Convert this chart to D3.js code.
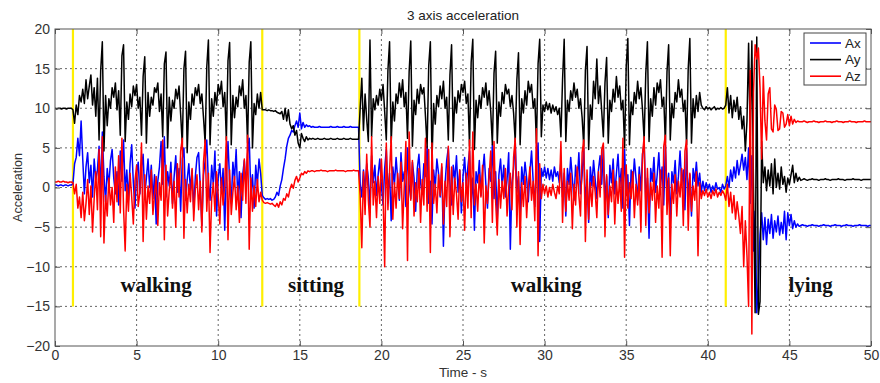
<!DOCTYPE html>
<html><head><meta charset="utf-8">
<script src="https://cdn.jsdelivr.net/npm/d3@7"></script>
<style>
body{margin:0;background:#fff}
svg{display:block}
text{font-family:"Liberation Sans",Arial,sans-serif}
</style>
</head><body>
<svg id="chart" width="880" height="383"></svg>
<script>
// ---------- DATA (sampled every 0.1 s; each segment starts at segStart) ----------
const segStart = [0, 1.1, 12.7, 18.7, 41.2, 45.7];
const sampleStep = 0.1;

// Ax (blue)
const axRest = [0.3,0.3,0.2,0.3,0.3,0.2,0.3,0.3,0.2,0.3,0.3];
const axWalk1 = [0.5,3.0,3.8,6.2,4.0,8.4,3.6,-0.8,2.6,4.4,
0.6,2.8,-1.2,3.6,1.0,2.2,5.2,-0.6,7.0,1.4,
-1.8,2.4,0.2,3.4,4.8,1.2,-0.8,2.0,-2.2,4.6,
0.8,6.0,-0.4,2.2,-1.6,3.0,5.4,0.6,-2.6,1.8,
3.2,-0.8,2.4,4.2,-1.0,1.2,3.6,0.0,2.8,-1.4,
1.6,-4.6,0.8,2.6,5.8,0.4,6.4,-1.2,2.0,0.2,
3.2,-2.0,1.4,4.0,-0.6,2.4,-3.0,3.6,5.0,-1.6,
1.0,3.0,-0.4,2.2,-2.8,1.4,3.8,4.4,0.2,-4.8,
1.6,3.4,6.0,0.6,-1.6,2.8,0.4,4.6,-3.6,1.2,
3.0,-0.6,2.4,-5.4,1.8,5.8,0.8,-2.0,3.2,1.0,
4.8,-1.4,2.0,-3.8,1.6,3.4,0.2,4.2,6.2,-0.8,
1.6,-2.6,2.8,0.4,3.6,1.8];
const axSit = [-1.0,-1.3,-1.5,-1.4,-1.5,-1.4,-1.6,-1.5,-1.2,-0.6,-1.0,
0.2,1.0,2.4,3.6,5.2,6.2,6.6,7.2,7.0,7.8,
8.4,7.6,9.4,7.4,8.2,7.6,7.9,7.7,7.8,
7.6,7.7,7.6,7.6,7.6,7.7,7.6,7.6,7.6,7.6,
7.6,7.6,7.7,7.6,7.6,7.6,7.7,7.6,7.6,7.6,
7.7,7.6,7.6,7.6,7.7,7.6,7.6,7.6,7.6,7.6];
const axWalk2 = [0.4,-1.2,2.2,-0.4,3.0,1.2,-2.6,4.0,0.6,2.8,
-1.0,1.6,3.6,0.2,-2.2,2.4,4.8,-0.8,1.8,-4.2,
2.6,0.4,3.8,1.0,-1.6,4.4,0.8,2.0,-2.4,5.0,
0.2,-1.4,3.2,1.2,-3.0,2.4,4.2,0.6,-0.8,3.0,
1.4,5.2,-2.0,0.8,-4.6,2.2,0.0,3.6,1.8,-1.2,
2.6,-7.4,0.4,3.4,5.0,0.6,-2.2,2.8,1.0,4.0,
-0.6,2.2,-3.2,1.4,3.8,0.2,2.6,4.6,-1.8,1.2,
-5.4,2.0,0.6,3.4,-1.0,1.8,4.2,0.4,-2.6,2.4,
0.8,5.4,-1.4,2.0,-4.0,1.6,3.6,0.2,2.8,-1.2,
1.0,4.4,-7.8,0.6,2.4,5.8,-0.6,1.4,-3.4,2.6,
0.4,3.2,1.2,-1.8,2.0,4.6,0.8,-2.4,3.0,5.6,
-6.8,2.4,1.4,2.6,1.2,2.4,1.0,2.2,0.8,2.6,
1.4,2.0,0.6,3.4,-1.2,1.8,-3.6,2.4,0.4,3.8,
1.2,-1.6,2.8,0.6,4.4,-0.8,1.6,5.0,-2.2,1.0,
-4.4,2.6,0.2,3.4,1.0,-1.4,2.2,4.0,0.4,5.2,
-2.0,1.4,-3.8,2.8,0.6,3.6,-0.8,1.8,4.2,0.0,
2.4,-2.6,4.8,-1.0,1.6,-4.8,2.2,0.4,3.6,1.2,
-1.6,2.6,-0.4,4.2,5.6,-1.8,1.2,-6.4,2.4,0.8,
3.8,-0.6,1.6,4.4,0.2,2.6,-2.2,5.4,-1.0,1.8,
-4.2,2.0,0.6,3.4,-0.8,1.4,4.6,0.4,2.2,-2.8,
5.0,-1.4,1.6,-3.6,2.4,0.8,3.2,0.2,1.8,-0.6,
0.8,-0.4,0.6,-0.2,0.4,-0.6,0.2,-0.4,0.6,-0.2,
0.0,-0.6,0.4,-0.2,0.2];
const axLie = [1.4,0.0,2.2,0.8,2.6,1.2,3.4,1.6,2.8,4.2,
2.2,3.8,1.0,5.0,-2.0,4.0,-8.0,-3.0,-15.8,-12.0,
-6.0,-3.2,-6.6,-3.8,-7.2,-4.0,-5.8,-3.4,-6.4,-4.2,
-5.6,-3.6,-6.0,-4.4,-5.8,-3.0,-6.6,-3.2,-4.8,-3.4,
-5.2,-4.2,-5.0,-4.6,-4.9];
const axFlat = [-4.8,-4.7,-4.8,-4.8,-4.9,-4.8,-4.8,-4.7,-4.8,-4.8,
-4.8,-4.9,-4.8,-4.8,-4.7,-4.8,-4.8,-4.8,-4.9,-4.8,
-4.8,-4.7,-4.8,-4.8,-4.8,-4.9,-4.8,-4.8,-4.7,-4.8,
-4.8,-4.8,-4.9,-4.8,-4.8,-4.8,-4.7,-4.8,-4.8,-4.8,
-4.8,-4.9,-4.8,-4.8];

// Ay (black)
const ayRest = [10.0,9.9,10.0,10.0,9.9,10.0,10.0,9.9,10.0,10.0,10.0];
const ayWalk1 = [9.8,8.1,10.4,9.2,11.6,10.8,12.4,10.6,13.6,11.2,
12.8,14.2,10.4,12.6,9.0,13.8,6.0,14.8,18.4,4.6,
11.6,7.8,11.2,10.0,12.6,11.4,13.2,9.8,12.2,6.6,
16.6,18.0,5.8,10.8,8.6,11.8,10.2,12.8,11.6,13.0,
10.0,11.4,6.6,14.0,16.5,5.6,12.0,9.0,11.4,10.4,
12.6,12.0,13.2,9.6,11.8,6.4,15.6,17.1,5.0,11.4,
8.4,11.0,10.0,12.4,11.2,12.8,9.2,5.4,15.0,17.2,
4.4,10.8,8.6,11.8,10.4,12.6,11.6,13.0,10.6,11.8,
8.8,5.6,15.2,18.6,5.4,11.2,9.0,12.0,10.4,13.0,
11.8,13.4,10.2,12.0,6.0,16.0,18.3,5.4,11.6,8.8,
11.4,10.2,12.8,11.6,13.6,10.0,11.6,5.6,15.8,18.4,
5.0,10.6,9.2,11.8,10.0,12.0];
const aySit = [9.8,9.8,9.8,9.7,9.8,9.7,9.7,9.6,9.7,9.5,9.4,
9.3,9.6,8.6,10.0,8.4,9.8,8.0,7.4,7.8,6.6,
7.2,5.6,5.0,6.8,6.2,5.8,6.4,6.0,6.2,
6.1,6.2,6.1,6.1,6.2,6.1,6.1,6.1,6.2,6.1,
6.1,6.1,6.2,6.1,6.1,6.1,6.2,6.1,6.1,6.1,
6.2,6.1,6.1,6.1,6.2,6.1,6.1,6.1,6.1,6.1];
const ayWalk2 = [10.0,13.8,7.2,11.8,8.6,5.8,18.6,6.4,11.2,9.8,
11.6,10.4,12.4,11.0,13.0,9.6,6.0,14.8,18.4,5.6,
10.8,8.4,11.8,10.6,13.2,11.4,13.6,10.2,12.0,6.2,
14.6,18.5,5.2,11.0,9.2,12.4,10.6,13.0,11.8,12.6,
9.0,5.0,15.4,18.4,3.4,10.6,8.0,11.6,10.2,12.8,
11.2,13.4,10.0,11.4,6.0,14.2,18.0,5.8,11.4,9.4,
12.2,10.8,13.0,12.0,13.4,10.6,11.8,5.2,15.8,18.7,
4.8,11.0,8.8,11.6,10.0,12.6,11.4,13.2,10.4,12.2,
9.6,5.4,14.4,17.2,5.6,10.8,9.0,12.0,10.6,13.0,
11.8,12.4,10.2,11.6,9.4,5.8,13.6,17.0,5.4,11.2,
9.4,12.2,10.4,13.4,12.0,13.0,10.0,11.2,5.6,15.6,
18.7,6.4,10.4,9.6,10.8,9.8,10.6,9.4,10.4,9.6,
10.2,9.2,10.0,6.4,13.6,18.7,5.8,11.0,9.6,12.2,
11.0,13.2,11.4,12.4,10.0,11.2,8.8,5.2,14.8,17.8,
4.8,10.4,8.6,13.4,11.2,16.2,10.6,12.8,9.6,6.4,
13.2,16.4,5.6,11.0,9.6,12.4,10.8,14.0,11.4,12.8,
9.8,11.0,5.0,15.2,18.8,5.4,10.8,9.2,12.0,10.6,
13.4,11.2,12.6,9.8,6.0,14.4,18.4,5.8,11.2,9.0,
12.6,10.4,13.2,12.0,13.6,10.2,11.4,5.6,14.6,18.0,
6.0,10.6,8.8,12.0,10.8,13.6,11.4,12.4,9.6,11.0,
5.4,15.0,18.8,5.6,11.2,8.8,11.6,9.6,12.0,10.4,
10.0,9.8,10.2,9.9,10.1,9.8,10.0,10.2,9.8,10.0,
9.9,10.1,9.9,10.0,10.4];
const ayLie = [12.6,9.4,11.6,8.8,11.0,9.6,11.4,8.6,10.2,7.4,
9.0,4.6,8.4,18.2,6.0,18.5,0.0,-15.8,19.0,-16.0,
-14.4,5.8,0.6,2.6,-0.4,2.2,0.2,3.0,-0.8,3.6,
0.0,1.8,-0.2,2.6,0.4,1.4,-0.6,1.2,0.4,1.6,
2.8,0.6,1.8,0.8,1.3];
const ayFlat = [0.9,1.0,1.1,1.0,0.9,1.0,1.0,1.1,1.0,1.0,
1.0,0.9,1.0,1.0,1.0,1.1,1.0,1.0,0.9,1.0,
1.0,1.0,1.0,1.1,1.0,1.0,1.0,0.9,1.0,1.0,
1.0,1.0,1.1,1.0,1.0,1.0,1.0,0.9,1.0,1.0,
1.0,1.0,1.0,1.0];

// Az (red)
const azRest = [0.7,0.7,0.8,0.7,0.7,0.8,0.7,0.7,0.6,0.7,0.7];
const azWalk1 = [0.6,-0.8,0.4,-2.6,-1.2,-3.8,-0.6,-4.2,-2.0,1.0,
-3.4,0.2,-5.6,-1.4,2.0,-2.8,4.8,-6.2,6.4,-7.0,
-1.0,-3.6,1.2,-2.2,0.0,-4.4,2.6,-1.8,4.0,-3.2,
6.2,-2.6,-8.0,0.4,-3.0,1.8,-1.2,-4.6,0.8,2.8,
-2.4,-0.6,5.6,-6.8,1.6,-4.0,0.2,-2.0,2.2,-3.4,
-0.8,1.4,-4.8,0.6,-1.6,6.0,-6.6,2.8,-3.6,-0.4,
1.8,-2.6,0.8,-5.0,3.0,-1.2,4.6,6.2,-6.4,1.0,
-3.2,0.4,-1.8,2.4,-4.2,-0.2,1.6,-2.8,0.8,-5.6,
3.2,6.0,-3.0,1.8,-8.2,-1.4,0.6,-3.0,2.0,-1.0,
-4.6,1.2,-2.2,0.4,6.4,-6.6,2.2,-3.4,-0.6,1.4,
-2.8,0.2,-4.4,1.8,-1.6,3.6,-2.0,6.6,-7.8,1.2,
-3.0,0.2,-2.4,1.0,-1.8,-0.6];
const azSit = [-1.6,-1.9,-2.0,-1.9,-2.0,-2.1,-2.0,-2.2,-2.4,-2.0,-2.5,
-1.8,-2.2,-1.4,-1.6,-0.8,-1.2,-0.2,0.4,-0.1,0.9,
1.4,0.7,1.2,1.8,1.6,2.0,1.8,2.1,2.0,
2.1,2.1,2.0,2.1,2.1,2.1,2.2,2.1,2.1,2.1,
2.0,2.1,2.1,2.1,2.1,2.2,2.1,2.1,2.1,2.1,
2.1,2.0,2.1,2.1,2.1,2.1,2.2,2.1,2.1,2.1];
const azWalk2 = [-1.0,-7.6,2.0,-3.4,4.2,-1.6,-5.0,6.4,-2.2,0.8,
-3.8,1.4,-2.0,3.6,-0.6,-10.0,5.6,-2.8,2.0,6.4,
-4.0,0.6,-2.6,1.8,-1.4,3.2,-5.2,0.2,5.8,-9.2,
7.0,-1.6,3.4,-3.6,0.6,-1.8,2.4,-4.4,1.0,-2.2,
6.2,-3.0,4.8,-8.2,5.6,-2.0,0.4,-3.2,1.6,-1.0,
3.0,-4.6,0.8,-2.4,5.2,-6.2,2.6,-3.4,1.2,-0.8,
-4.0,2.2,-1.8,0.6,-5.4,1.8,-2.6,6.0,-3.8,7.0,
-2.2,0.4,-3.0,1.6,-1.2,2.8,-7.0,0.2,-2.0,1.4,
4.6,-4.4,5.8,-1.8,-6.0,1.0,-2.6,0.8,-1.4,2.4,
-3.6,0.0,1.8,-2.8,3.8,6.2,-5.0,2.0,-7.2,0.6,
-2.4,1.4,-3.8,0.2,2.6,-1.6,0.8,-4.2,7.4,-8.6,
3.0,-1.4,0.4,-0.8,0.2,-1.2,0.0,-1.0,0.4,-0.6,
-1.4,0.2,-0.8,5.8,-4.4,2.4,-3.0,0.8,-1.6,1.8,
-5.2,0.4,-2.2,2.6,-1.0,-3.6,4.4,6.0,-6.8,2.2,
-4.0,0.6,-2.4,1.4,-0.6,-3.8,2.0,-1.2,4.8,5.6,
-6.2,1.6,-3.4,0.2,-1.8,2.2,-4.6,0.8,-2.0,1.2,
-3.0,6.2,-8.8,2.8,-2.6,0.6,-1.4,2.0,-3.8,0.4,
-2.2,1.6,-5.6,4.2,6.4,-4.8,2.4,-3.2,0.6,-1.6,
1.8,-4.4,0.2,-2.6,2.2,-8.8,5.2,6.6,-3.4,1.2,
-8.6,0.4,-2.0,1.6,-3.6,0.8,-1.2,2.4,-4.8,4.6,
6.0,-5.4,1.8,-3.0,0.2,-1.6,2.0,-8.6,0.6,-1.4,
-0.4,-1.0,-0.2,-1.2,-0.6,-1.4,-0.4,-1.0,-0.2,-1.2,
-0.6,-1.0,-0.4,-0.8,-1.6];
const azLie = [0.4,-2.4,-0.6,-3.2,-1.0,-4.0,-1.8,-3.6,-5.8,-2.4,
-10.0,-4.2,-8.6,-15.0,14.8,-18.5,12.0,18.0,16.2,17.6,
12.6,3.6,14.0,8.4,6.0,11.8,12.6,7.4,7.0,10.4,
9.8,7.2,7.4,9.6,9.4,7.6,8.0,9.2,7.8,9.0,
8.0,8.6,8.2,8.4,8.3];
const azFlat = [8.3,8.3,8.4,8.3,8.2,8.3,8.3,8.3,8.4,8.3,
8.3,8.2,8.3,8.3,8.3,8.4,8.3,8.3,8.3,8.2,
8.3,8.3,8.4,8.3,8.3,8.3,8.2,8.3,8.3,8.3,
8.4,8.3,8.3,8.3,8.2,8.3,8.3,8.3,8.3,8.4,
8.3,8.3,8.3,8.3];

const seriesNames = ["Ax", "Ay", "Az"];
const seriesColors = ["#0000ff", "#000000", "#ff0000"];
const seriesSegments = [
  [axRest, axWalk1, axSit, axWalk2, axLie, axFlat],
  [ayRest, ayWalk1, aySit, ayWalk2, ayLie, ayFlat],
  [azRest, azWalk1, azSit, azWalk2, azLie, azFlat]
];

const xTicks = [0, 5, 10, 15, 20, 25, 30, 35, 40, 45, 50];
const yTicks = [-20, -15, -10, -5, 0, 5, 10, 15, 20];
const activityMarks = [1.1, 12.7, 18.65, 41.1];   // yellow separators (s)
const activityMarkTop = 20, activityMarkBottom = -15;
const activityLabels = ["walking", "sitting", "walking", "lying"];
const activityLabelAt = [6.2, 16.0, 30.1, 46.3];
const activityLabelY = -13.2;

// ---------- CHART ----------
const svg = d3.select("#chart");
const L = 55, R = 871, T = 29, B = 346;
const x = d3.scaleLinear().domain([0, 50]).range([L, R]);
const y = d3.scaleLinear().domain([-20, 20]).range([B, T]);

const series = seriesNames.map((name, si) => {
  const pts = [];
  seriesSegments[si].forEach((seg, k) => {
    seg.forEach((v, j) => pts.push({ t: +(segStart[k] + j * sampleStep).toFixed(2), v }));
  });
  return { name, color: seriesColors[si], pts };
});

svg.append("rect").attr("x", L).attr("y", T).attr("width", R - L).attr("height", B - T).attr("fill", "#fff");

// grid
const grid = svg.append("g").attr("stroke", "#555").attr("stroke-width", 0.9).attr("stroke-dasharray", "2,3");
grid.selectAll("line.gx").data(xTicks.slice(1, -1)).join("line")
  .attr("x1", d => x(d)).attr("x2", d => x(d)).attr("y1", T).attr("y2", B);
grid.selectAll("line.gy").data(yTicks.slice(1, -1)).join("line")
  .attr("y1", d => y(d)).attr("y2", d => y(d)).attr("x1", L).attr("x2", R);

// yellow separators
svg.append("g").selectAll("line").data(activityMarks).join("line")
  .attr("x1", d => x(d)).attr("x2", d => x(d))
  .attr("y1", y(activityMarkTop)).attr("y2", y(activityMarkBottom))
  .attr("stroke", "#ffef00").attr("stroke-width", 2.2);

svg.append("clipPath").attr("id", "clip").append("rect")
  .attr("x", L).attr("y", T).attr("width", R - L).attr("height", B - T);

const line = d3.line().x(d => x(d.t)).y(d => y(d.v));
svg.append("g").attr("clip-path", "url(#clip)").selectAll("path").data(series).join("path")
  .attr("d", d => line(d.pts))
  .attr("fill", "none")
  .attr("stroke", d => d.color)
  .attr("stroke-width", 1.5)
  .attr("stroke-linejoin", "round");

// activity labels
svg.append("g").selectAll("text").data(activityLabels).join("text")
  .attr("x", (d, i) => x(activityLabelAt[i]))
  .attr("y", y(activityLabelY))
  .attr("text-anchor", "middle")
  .style("font-family", "'Liberation Serif','Times New Roman',serif")
  .style("font-weight", "bold")
  .style("font-size", "21px")
  .attr("fill", "#111")
  .text(d => d);

// axes
const axL = svg.append("g").attr("transform", `translate(${L},0)`)
  .call(d3.axisLeft(y).tickValues(yTicks).tickSizeInner(-5).tickSizeOuter(0).tickPadding(5));
const axB = svg.append("g").attr("transform", `translate(0,${B})`)
  .call(d3.axisBottom(x).tickValues(xTicks).tickSizeInner(-5).tickSizeOuter(0).tickPadding(4));
const axT = svg.append("g").attr("transform", `translate(0,${T})`)
  .call(d3.axisTop(x).tickValues(xTicks).tickSizeInner(-5).tickSizeOuter(0).tickFormat(""));
const axR = svg.append("g").attr("transform", `translate(${R},0)`)
  .call(d3.axisRight(y).tickValues(yTicks).tickSizeInner(-5).tickSizeOuter(0).tickFormat(""));
[axL, axB, axT, axR].forEach(g => {
  g.select(".domain").remove();
  g.selectAll(".tick line").attr("stroke", "#555");
  g.selectAll(".tick text").attr("fill", "#333").style("font-size", "14px")
   .style("font-family", "'Liberation Sans',Arial,sans-serif");
});

// frame
svg.append("rect").attr("x", L).attr("y", T).attr("width", R - L).attr("height", B - T)
  .attr("fill", "none").attr("stroke", "#555").attr("stroke-width", 1);

// title & labels
svg.append("text").attr("x", (L + R) / 2).attr("y", 20).attr("text-anchor", "middle")
  .style("font-size", "13.5px").attr("fill", "#222").text("3 axis acceleration");
svg.append("text").attr("x", (L + R) / 2).attr("y", 377).attr("text-anchor", "middle")
  .style("font-size", "13.5px").attr("fill", "#333").text("Time - s");
svg.append("text").attr("transform", `translate(22,${(T + B) / 2}) rotate(-90)`).attr("text-anchor", "middle")
  .style("font-size", "12.5px").attr("fill", "#333").text("Acceleration");

// legend
const lg = svg.append("g").attr("transform", "translate(804,33)");
lg.append("rect").attr("width", 62).attr("height", 52).attr("fill", "#fff").attr("stroke", "#444").attr("stroke-width", 1);
const li = lg.selectAll("g").data(series).join("g").attr("transform", (d, i) => `translate(0,${10 + i * 16.6})`);
li.append("line").attr("x1", 6).attr("x2", 37).attr("stroke", d => d.color).attr("stroke-width", 1.6);
li.append("text").attr("x", 41).attr("dy", "0.35em").style("font-size", "13.5px").attr("fill", "#222").text(d => d.name);
</script>
</body></html>
